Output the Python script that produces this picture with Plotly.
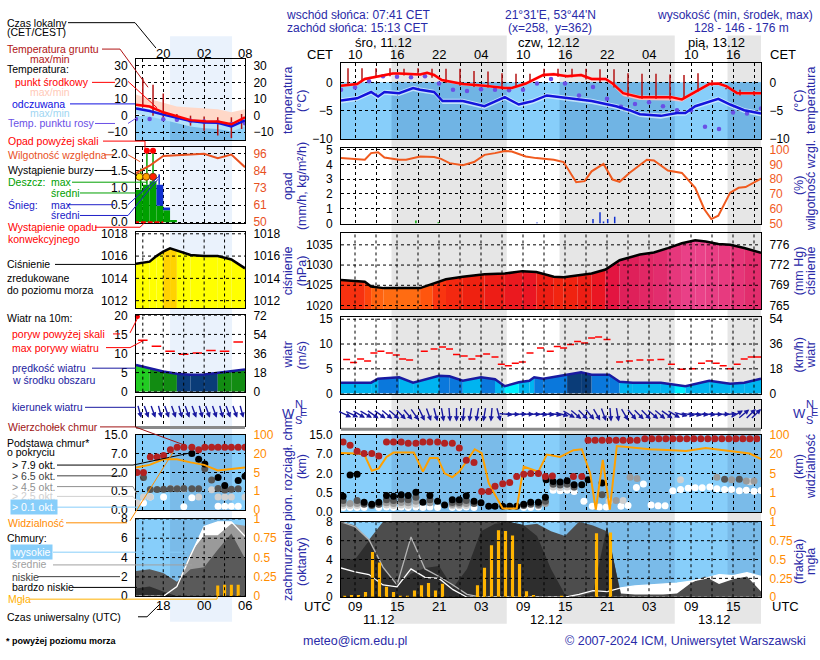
import math
import plotly.graph_objects as go

W, H = 820, 660
FONT = "Liberation Sans, Arial, sans-serif"
TXT_BLUE = "#2a2aa8"

# ======================= DATA =======================
cet_hours = [2, 8, 14, 20, 26, 32, 38, 44, 50, 56]
cet_labels = ["10", "16", "22", "04", "10", "16", "22", "04", "10", "16"]
utc_labels = ["09", "15", "21", "03", "09", "15", "21", "03", "09", "15"]
day_labels = ["śro, 11.12", "czw, 12.12", "pią, 13.12"]
day_label_hours = [6.0, 29.6, 53.7]
date_labels = ["11.12", "12.12", "13.12"]
date_label_hours = [5.4, 29.4, 53.4]
night_start = [7.22, 31.22, 55.22]
night_end = [23.68, 47.68, 60.0]
left_night = [-11.0, -1.9]
left_tick_hours = [-12, -6, 0]
left_cet_labels = ["20", "02", "08"]
left_utc_labels = ["18", "00", "06"]

temp_hours = [0, 2.3, 3.4, 5.3, 7.4, 8.3, 11.3, 12.3, 13.3, 14.4, 17.4, 20.5, 23.4, 24.4, 26.4, 28.9,
              30.4, 32.3, 34.3, 35.8, 37.8, 38.8, 40.3, 42.7, 47.2, 48.7, 50.6, 52.6, 53.9, 55.1, 56.6, 60]
temp_mid = [-0.6, -0.3, 0.6, 1.0, 1.55, 1.55, 1.4, 1.7, 1.3, 0.4, -0.3, -0.6, -1.0, -1.0, -0.2, 1.3,
            1.45, 1.1, 1.3, 0.6, 0.6, -0.2, -1.9, -2.6, -2.6, -3.0, -1.7, -0.3, -0.2, -0.7, -1.9, -1.9]
temp_max = [-0.35, -0.05, 0.85, 1.25, 1.8, 1.8, 1.65, 1.95, 1.55, 0.65, -0.05, -0.35, -0.75, -0.75, 0.05, 1.6,
            1.75, 1.4, 1.6, 0.9, 0.85, 0.1, -1.6, -2.3, -2.3, -2.7, -1.4, 0.0, 0.05, -0.45, -1.65, -1.65]
temp_min = [-0.85, -0.55, 0.35, 0.75, 1.3, 1.3, 1.15, 1.45, 1.05, 0.15, -0.55, -0.85, -1.25, -1.25, -0.45, 1.0,
            1.15, 0.8, 1.0, 0.3, 0.3, -0.6, -2.4, -3.1, -3.2, -3.4, -2.1, -0.6, -0.5, -1.0, -2.2, -2.2]
perc_hours = [0, 2.3, 4.3, 5.3, 6.2, 8.3, 10.3, 11.3, 13.3, 14.5, 17.4, 20.5, 23.4, 25.4, 26.4, 27.4,
              29.4, 32.3, 35.8, 37.8, 39.3, 41.2, 42.7, 45.7, 48.0, 49.2, 50.6, 53.9, 55.6, 57.6, 60]
perc_mid = [-3.2, -2.8, -1.7, -2.5, -1.7, -1.9, -1.0, -1.3, -1.7, -3.3, -3.3, -4.2, -2.6, -3.9, -3.6, -3.3,
            -2.3, -2.7, -3.3, -3.8, -4.2, -4.9, -5.6, -5.9, -5.4, -5.4, -4.2, -2.9, -3.9, -4.9, -5.5]
perc_max = [-2.8, -2.4, -1.3, -2.1, -1.3, -1.5, -0.6, -0.9, -1.3, -2.9, -2.9, -3.8, -2.2, -3.5, -3.2, -2.9,
            -1.9, -2.3, -2.9, -3.4, -3.8, -4.5, -5.2, -5.5, -5.0, -5.0, -3.8, -2.5, -3.5, -4.5, -5.1]
perc_min = [-3.7, -3.3, -2.2, -3.0, -2.2, -2.4, -1.5, -1.8, -2.2, -3.8, -3.8, -4.7, -3.1, -4.4, -4.1, -3.8,
            -2.8, -3.2, -3.8, -4.3, -4.7, -5.4, -6.1, -6.4, -5.9, -5.9, -4.7, -3.4, -4.4, -5.4, -6.0]
ground_hours = [1, 3, 5, 7, 9, 11, 13, 15, 17, 19, 21, 23, 25, 27, 29, 31, 33, 35, 37, 39,
                41, 43, 45, 47, 49, 51, 53, 55, 57, 59]
ground_max = [2.5, 2.5, 2.5, 2.5, 2.4, 2.5, 2.4, 2.4, 2.4, 2.0, 1.9, 1.6, 1.5, 1.5, 2.4, 2.4, 2.4, 2.4, 2.3, 2.3,
              1.6, 1.5, 1.5, 1.4, 1.3, 1.6, 0.4, -1.0, -1.3, -1.5]
ground_min = [-0.4, 0.3, 0.8, 1.1, 1.2, 1.3, 0.8, -0.1, -0.6, -0.8, -0.9, -1.2, -0.8, 0.0, 1.0, 1.0, 0.9, 0.5, 0.0, -0.9,
              -2.5, -2.9, -2.9, -3.0, -2.7, -1.6, -0.6, -1.2, -2.3, -2.3]
dew_hours = [0, 2, 4, 6, 8, 10, 12, 14, 16, 18, 20, 22, 24, 26, 28, 30, 32, 34, 36, 38, 40, 42, 44, 46, 48,
             50, 52, 54, 56, 58, 60]
dew_vals = [-1.3, -0.9, 0.2, 1.1, 1.0, 0.9, 1.1, -0.2, -1.3, -1.5, -1.2, -1.3, -1.4, -1.3, -0.2, 0.6, -0.2, -2.3,
            -0.8, -2.9, -4.3, -3.8, -3.5, -4.2, -4.9, -4.9, -7.8, -8.2, -5.3, -5.5, -4.6]

rh_hours = [0, 3.4, 4.3, 5.3, 6.2, 8.3, 9.3, 11.3, 13.3, 14.3, 15.5, 17.4, 19.0, 20.5, 22.0, 23.4, 24.4, 26.4,
            27.9, 30.4, 31.8, 33.6, 34.8, 35.8, 37.5, 38.8, 39.8, 41.2, 43.7, 44.7, 46.7, 48.7, 50.6, 51.9,
            52.9, 53.9, 55.6, 56.8, 57.8, 60]
rh_vals = [94.4, 93.3, 97.8, 98.4, 94.8, 93.3, 93.3, 95.5, 95.1, 93.9, 91.0, 89.5, 91.7, 96.6, 97.8, 99.3, 98.9,
           95.5, 94.4, 93.3, 91.7, 78.0, 78.7, 85.4, 90.4, 79.8, 78.3, 84.3, 93.3, 92.8, 85.9, 84.3, 74.2, 59.6,
           52.9, 55.2, 70.9, 74.2, 74.7, 80.5]
precip_hours = [10.7, 13.9, 28.0, 36.0, 37.0, 37.5, 38.1, 39.1]
precip_vals = [0.2, 0.08, 0.05, 0.3, 0.75, 0.12, 0.3, 0.45]
precip_kind = ["rain", "rain", "snow", "snow", "snow", "snow", "snow", "snow"]

pres_hours = [0, 3.4, 4.3, 6.1, 11.3, 13.1, 15.0, 17.4, 20.5, 23.4, 25.9, 27.9, 30.4, 31.8, 33.8, 35.8,
              37.8, 39.8, 42.7, 44.7, 46.7, 48.7, 50.6, 52.1, 53.9, 55.6, 57.6, 60]
pres_vals = [1026.3, 1025.9, 1024.7, 1024.3, 1024.3, 1025.3, 1026.5, 1027.1, 1027.7, 1027.9, 1028.5, 1028.3,
             1027.1, 1027.0, 1027.5, 1027.9, 1028.9, 1031.2, 1032.6, 1033.1, 1034.2, 1035.4, 1036.1, 1035.8,
             1035.2, 1035.0, 1034.2, 1033.0]

wind_hours = [0, 4.3, 5.3, 8.3, 10.3, 14.0, 15.5, 17.4, 20.0, 22.0, 23.4, 25.4, 26.9, 27.6, 28.9, 32.3,
              34.3, 35.8, 38.3, 39.8, 41.7, 45.7, 47.7, 49.2, 52.6, 55.6, 57.6, 60]
wind_vals = [2.2, 2.2, 3.0, 3.3, 2.2, 3.6, 3.5, 2.6, 3.3, 2.9, 1.5, 2.3, 2.6, 3.3, 3.0, 3.75, 4.3, 3.8, 3.8,
             2.4, 2.2, 2.2, 1.8, 1.5, 2.6, 2.0, 2.2, 3.0]
gust_hours = [0.8, 1.8, 2.8, 3.8, 4.7, 5.7, 6.9, 7.9, 8.8, 9.8, 11.9, 13.3, 14.5, 15.5, 16.5, 17.6, 18.7, 19.7,
              20.8, 22.0, 22.9, 23.9, 24.9, 25.9, 27.0, 28.5, 29.9, 30.9, 31.8, 32.8, 33.8, 34.8, 35.8, 36.8,
              38.0, 39.8, 41.2, 42.7, 44.2, 45.7, 47.2, 48.7, 50.2, 51.5, 52.6, 53.6, 54.6, 55.6, 56.6, 57.6,
              58.6, 59.5]
gust_vals = [6.9, 6.25, 7.0, 6.6, 8.2, 8.55, 8.2, 7.8, 7.0, 6.8, 8.55, 9.0, 9.4, 9.0, 7.9, 7.6, 7.0, 7.6, 8.0,
             7.4, 5.9, 5.6, 6.1, 6.4, 8.2, 9.2, 8.55, 9.5, 9.2, 9.9, 10.5, 10.2, 11.2, 11.4, 10.9, 6.4, 6.6,
             6.8, 6.8, 6.9, 5.9, 4.9, 5.0, 6.1, 6.6, 6.1, 5.6, 5.0, 5.9, 7.0, 7.4, 7.4]
dir_hours = [0.5, 1.5, 2.5, 3.5, 4.5, 5.5, 6.5, 7.5, 8.5, 9.5, 10.5, 11.5, 12.5, 13.5, 14.5, 15.5, 16.5, 17.5,
             18.5, 19.5, 20.5, 21.5, 22.5, 23.5, 24.5, 25.5, 26.5, 27.5, 28.5, 29.5, 30.5, 31.5, 32.5, 33.5,
             34.5, 35.5, 36.5, 37.5, 38.5, 39.5, 40.5, 41.5, 42.5, 43.5, 44.5, 45.5, 46.5, 47.5, 48.5, 49.5,
             50.5, 51.5, 52.5, 53.5, 54.5, 55.5, 56.5, 57.5, 58.5, 59.5]
dir_deg = [295, 295, 300, 300, 305, 305, 310, 310, 315, 320, 325, 335, 340, 345, 350, 355, 360, 5, 10, 10,
           10, 5, 345, 275, 272, 270, 270, 272, 275, 275, 278, 285, 300, 310, 315, 320, 330, 340, 355, 350,
           330, 320, 315, 315, 310, 310, 305, 300, 285, 280, 278, 275, 275, 272, 270, 265, 240, 230, 225, 225]

top_hours = [0.3, 1.3, 2.3, 3.3, 4.4, 5.4, 6.5, 7.5, 8.6, 9.6, 10.7, 11.7, 12.7, 13.8, 14.8, 15.9, 16.9, 17.9,
             19.0, 20.1, 21.1, 22.0, 23.1, 24.1, 25.1, 26.1, 27.1, 28.2, 29.2, 30.2, 33.2, 34.4, 35.3, 36.3,
             37.3, 38.3, 39.3, 40.3, 41.3, 42.3, 43.4, 44.4, 45.4, 46.4, 47.4, 48.4, 49.4, 50.4, 51.4, 52.4,
             53.4, 54.4, 55.4, 56.4, 57.4, 58.4, 59.4]
top_km = [12.0, 10.6, 8.2, 7.2, 7.2, 6.5, 12.0, 12.0, 12.0, 11.5, 11.5, 12.0, 12.0, 12.0, 11.5, 11.5, 9.5, 5.4,
          4.8, 0.6, 0.6, 1.0, 1.2, 1.3, 1.75, 1.93, 1.99, 1.99, 1.75, 1.8, 1.76, 1.76, 12.7, 12.7, 12.7, 12.7,
          12.7, 12.7, 12.7, 12.7, 13.3, 13.3, 13.3, 13.3, 13.3, 13.3, 13.3, 13.3, 13.3, 13.3, 13.3, 13.3, 13.3,
          13.3, 13.3, 13.3, 13.3]
black_hours = [0.3, 1.3, 2.3, 3.3, 4.4, 5.4, 6.5, 7.5, 8.6, 9.6, 10.7, 11.7, 12.7, 13.8, 14.8, 15.9, 16.9,
               17.9, 19.0, 20.0, 21.1, 22.0, 23.1, 24.1, 25.1, 26.1, 27.1, 28.2, 29.2, 29.3, 30.3, 31.3, 32.3,
               33.3, 34.4, 35.3, 37.3]
black_km = [0.41, 1.87, 1.93, 0.255, 0.2, 0.255, 0.43, 0.41, 0.45, 0.43, 0.53, 0.255, 0.43, 0.28, 0.18, 0.32,
            0.32, 0.42, 0.28, 0.24, 0.15, 0.15, 0.15, 0.15, 0.15, 0.2, 0.255, 0.255, 0.38, 1.5, 1.37, 1.33,
            1.42, 1.12, 1.12, 1.5, 1.25]
dgray_hours = [0.3, 2.3, 3.3, 4.4, 5.4, 6.5, 7.5, 8.6, 9.6, 10.7, 12.7, 15.9, 16.9, 17.9, 19.0, 26.1, 27.1,
               28.2, 29.2, 30.3, 31.3, 32.3, 33.3, 37.3, 54.8, 56.9]
dgray_km = [0.3, 0.3, 0.2, 0.17, 0.2, 0.32, 0.3, 0.33, 0.32, 0.38, 0.32, 0.25, 0.25, 0.3, 0.22, 0.17, 0.2,
            0.2, 0.28, 1.15, 1.1, 1.15, 0.95, 0.45, 1.55, 1.55]
mgray_hours = [0.3, 1.3, 2.3, 5.4, 6.5, 7.5, 8.6, 9.6, 10.7, 12.7, 15.9, 16.9, 17.9, 28.2, 29.2, 39.3, 41.3,
               42.3, 53.7, 55.8, 57.9, 59.0]
mgray_km = [0.22, 0.22, 0.22, 0.2, 0.24, 0.22, 0.25, 0.24, 0.28, 0.24, 0.2, 0.2, 0.22, 0.17, 0.22, 0.3, 1.7,
            1.6, 1.7, 1.5, 1.4, 1.4]
lgray_hours = [0.3, 1.3, 2.3, 6.5, 7.5, 8.6, 9.6, 10.7, 15.9, 16.9, 17.9, 30.3, 31.3, 32.3, 33.3, 38.3, 40.3,
               48.5, 58.4]
lgray_km = [0.17, 0.17, 0.17, 0.18, 0.17, 0.18, 0.17, 0.2, 0.16, 0.16, 0.17, 0.95, 0.9, 0.95, 0.9, 0.28, 0.3,
            1.5, 1.35]
white_hours = [0.3, 1.3, 2.3, 3.3, 5.4, 6.5, 7.5, 8.6, 9.6, 10.7, 11.7, 12.7, 13.8, 15.9, 16.9, 17.9, 19.0,
               26.1, 27.1, 28.2, 30.3, 31.3, 32.3, 33.3, 34.7, 35.9, 36.9, 37.9, 40.0, 41.0, 42.2, 43.2, 44.3,
               45.3, 46.3, 47.4, 48.5, 49.6, 50.6, 51.6, 52.7, 53.7, 54.8, 55.8, 56.9, 57.9, 59.0, 60.0]
white_km = [0.12, 0.12, 0.12, 0.12, 0.12, 0.13, 0.12, 0.13, 0.12, 0.13, 0.12, 0.13, 0.12, 0.12, 0.12, 0.13,
            0.12, 0.12, 0.12, 0.13, 0.7, 0.65, 0.7, 0.6, 0.28, 0.15, 0.13, 0.13, 0.15, 0.17, 0.9, 1.18, 0.18,
            0.16, 0.16, 0.65, 0.75, 0.85, 0.88, 0.88, 0.95, 0.8, 0.75, 0.75, 0.65, 0.7, 0.62, 0.68]
vis_hours = [0, 1.3, 2.3, 3.3, 4.4, 5.4, 6.5, 7.5, 10.4, 11.7, 12.7, 13.8, 14.8, 15.9, 16.9, 17.9, 19.1, 20.1,
             21.1, 22.0, 23.1, 24.1, 25.1, 26.1, 27.1, 28.2, 29.4, 31.3, 33.2, 34.4, 35.6, 36.4, 37.4, 38.4,
             39.4, 44.1, 47.4, 49.3, 52.1, 55.0, 57.0, 58.4, 60]
vis_km = [24, 24, 22, 20, 7.0, 8.9, 17.8, 26, 26, 6.4, 17, 17, 5.0, 4.2, 6.4, 14, 40, 24, 3.0, 0.9, 0.19,
          0.19, 0.19, 10.2, 8.5, 6.4, 19.6, 17.8, 36, 40, 5.0, 0.13, 15.4, 0.13, 53, 40, 36, 33, 45, 33, 25,
          22, 16]

cc_hours = [0, 2, 4, 6, 8, 10, 12, 14, 16, 18, 20, 22, 24, 26, 28, 30, 32, 34, 36, 38, 40, 42, 44, 46, 48,
            50, 52, 54, 56, 58, 60]
cc_high = [3.1, 2.7, 2.4, 1.3, 1.1, 3.0, 2.1, 2.0, 0.8, 0, 0, 0, 0, 0, 0, 0, 0, 0.3, 0.7, 0.6, 1.0, 1.2, 1.3,
           1.4, 1.5, 1.7, 2.0, 2.4, 2.3, 2.6, 2.2]
cc_mid = [8.0, 7.5, 6.1, 3.2, 1.3, 6.4, 3.0, 2.2, 1.3, 0.3, 0, 0, 0, 0, 0, 0, 0, 0, 0, 0, 0, 0, 0, 0, 0, 0,
          0, 0, 0, 0, 0]
cc_low = [8.0, 7.6, 6.1, 8.0, 8.0, 8.0, 8.0, 8.0, 8.0, 8.0, 8.0, 8.0, 8.0, 7.6, 7.8, 7.0, 6.5, 8.0, 7.6, 7.0,
          0.4, 0.3, 0.3, 0.3, 0.4, 1.5, 2.2, 1.4, 1.9, 2.2, 0.6]
cc_vlow = [4.1, 4.0, 6.0, 3.0, 1.3, 2.5, 3.1, 3.3, 1.0, 3.0, 7.0, 7.8, 8.0, 7.7, 6.5, 3.0, 0.3, 0, 0.5, 7.5,
           0, 0, 0, 0, 0, 0, 0, 0, 0, 0, 0]
fog_hours = [0.5, 1.5, 2.5, 3.5, 4.5, 5.5, 6.5, 7.5, 8.5, 9.5, 10.5, 11.5, 12.5, 13.5, 14.5, 19.5, 20.5, 21.5,
             22.5, 23.5, 24.5, 25.5, 26.5, 27.5, 31.5, 36.5, 38.5]
fog_frac = [0.01, 0.03, 0.03, 0.07, 0.6, 0.46, 0.14, 0.07, 0.02, 0.01, 0.09, 0.16, 0.19, 0.09, 0.18, 0.16,
            0.39, 0.69, 0.89, 0.88, 0.82, 0.44, 0.08, 0.03, 0.02, 0.85, 0.86]

lt_hours = [-16, -14, -12, -10, -8, -6, -4, -2, 0]
lt_mid = [6.5, 5.5, 2.0, -0.5, -2.7, -3.4, -3.5, -5.2, -1.0]
lt_max = [12.7, 10.0, 7.8, 5.5, 4.9, 4.2, 3.9, 2.0, 3.9]
lt_min = [5.5, 4.5, 1.0, -1.2, -3.3, -4.0, -4.2, -6.0, -1.8]
lt_perc = [4.3, 2.8, 0.6, -1.2, -3.2, -4.1, -4.3, -6.5, -2.9]
lt_perc_max = [5.5, 4.0, 1.8, 0.0, -2.0, -2.9, -3.1, -5.3, -1.7]
lt_perc_min = [1.0, -0.5, -2.5, -4.5, -6.5, -7.5, -8.0, -9.5, -6.5]
lt_dew = [-2.0, -2.0, -2.2, -2.5, -3.0, -3.5, -4.0, -5.0, -4.5]
lg_hours = [-15, -13.5, -12, -10, -8, -6, -4, -2, -0.5]
lg_max = [22.5, 18.6, 13.3, 1.0, 0.0, -0.5, -1.0, -1.0, 1.0]
lg_min = [5.0, 0.0, -2.0, -3.5, -6.0, -9.0, -12.0, -13.5, -8.0]
lrh = [83, 88, 94.5, 95, 95, 96, 93, 95.5, 87]
lbar_hours = [-15.5, -14.5, -13.5, -12.5, -11.5, -10.5]
lrain = [0.95, 1.1, 1.2, 0.48, 0.35, 0.07]
lsnow = [0, 0, 0, 0.62, 0.08, 0]
lrain_max_hours = [-15.3, -14.4, -13.5]
lrain_max_from = [0.95, 1.1, 1.2]
lrain_max = [1.57, 2.5, 2.4]
lsnow_max_hours = [-12.6]
lsnow_max_from = [1.1]
lsnow_max = [1.4]
storm_hours = [-15.5, -14.5, -13.5]
storm_colors = ["#ffe000", "#ffa000", "#ff2000"]
conv_hours = [-15.5, -14.5, -13.5, -12.5]
lp_hours = [-16, -14, -13, -12, -11, -10, -8, -6, -4, -2, 0]
lp_vals = [1015.3, 1015.5, 1016.0, 1016.4, 1016.7, 1016.5, 1016.1, 1016.0, 1016.0, 1015.7, 1014.9]
lw_vals = [7.0, 6.1, 5.3, 4.7, 4.4, 4.5, 4.9, 5.4, 5.8]
lgust_hours = [-15.8, -15, -13, -11, -9, -7, -5, -3, -1]
lgust_vals = [23, 13.5, 11.9, 10.6, 9.8, 10.1, 10.8, 10.6, 13.0]
ldir_hours = [-15.5, -14.5, -13.5, -12.5, -11.5, -10.5, -9.5, -8.5, -7.5, -6.5, -5.5, -4.5, -3.5, -2.5, -1.5, -0.5]
ldir_deg = [345, 340, 340, 345, 340, 340, 345, 340, 340, 345, 340, 340, 345, 340, 340, 345]
ltop_hours = [-15.85, -14.9, -13.9, -12.9, -11.95, -10.95, -9.96, -8.98, -7.8, -6.8, -5.9, -4.9, -3.95, -2.97, -2.0, -1.0, 0]
ltop_km = [2.0, 2.0, 6.1, 6.1, 6.5, 8.6, 9.7, 9.7, 9.7, 8.6, 9.7, 9.7, 9.7, 9.7, 9.7, 9.7, 9.7]
lvis_km = [8.9, 11, 15.5, 15.5, 13, 11, 6.5, 7.5, 8.9]
lblack_hours = [-7.8, -6.8, -5.9, -3.95, -2.97, -1.0, 0]
lblack_km = [7.0, 5.5, 4.2, 1.6, 0.95, 1.35, 1.7]
ldgray_hours = [-14.9, -13.9, -12.9, -11.95, -10.95, -9.96, -8.98, -7.8, -6.8, -5.9, -4.9, -3.95, -2.97, -2.0, -1.0]
ldgray_km = [1.6, 0.64, 0.64, 0.66, 0.7, 0.7, 0.72, 0.7, 0.7, 3.0, 1.4, 0.72, 0.6, 0.65, 0.7]
llgray_hours = [-15.85, -14.9, -13.9, -10.95, -9.96, -8.98, -6.8, -4.9, -3.95, -2.97, -2.0, 0]
llgray_km = [0.19, 0.35, 0.35, 0.72, 0.7, 0.68, 0.35, 0.62, 0.35, 0.35, 0.35, 0.35]
lwhite_hours = [-14.9, -13.9, -11.95, -8.98, -7.8, -3.95, -2.97, -2.0, -1.0]
lwhite_km = [0.19, 0.35, 0.35, 0.09, 0.33, 0.1, 0.1, 0.1, 0.1]
lcc_high = [0, 0, 0, 1.0, 4.2, 7.2, 7.7, 7.7, 6.2]
lcc_mid = [0, 0, 0, 1.2, 4.5, 6.3, 6.3, 7.5, 7.3]
lcc_low = [2.6, 2.8, 2.4, 1.5, 2.8, 3.0, 4.8, 6.5, 3.9]
lcc_vlow = [0.8, 1.0, 0.5, 0, 0, 0, 0, 0, 0]
lfog_hours = [-4, -3, -2, -1]
lfog_frac = [0.14, 0.15, 0.15, 0.15]

CB_KM = [0, 0.5, 2, 7, 15]
VIS_KM = [0, 1, 5, 20, 100]
SCALE_POS = [0, 1, 2, 3, 4]
cb_ticktext = ["0.0", "0.5", "2.0", "7.0", "15.0"]
vis_ticktext = ["0", "1", "5", "20", "100"]
mmhg_ticks = [1020, 1025, 1030, 1035]
mmhg_text = ["765", "769", "772", "776"]
kmh_text_main = ["0", "18", "36", "54"]
kmh_text_left = ["0", "18", "36", "54", "72"]
lrh_ticks = [50, 61.5, 73, 84.5, 96]
lrh_text = ["50", "61", "73", "84", "96"]

# ======================= STYLE / LAYOUT =======================
layout = dict(width=W, height=H, margin=dict(l=0, r=0, t=0, b=0), paper_bgcolor="white",
              plot_bgcolor="rgba(0,0,0,0)", showlegend=False, barmode="overlay",
              font=dict(family=FONT, size=12, color="black"))
traces, shapes, annotations = [], [], []
DASH = "3px,3px"
SKY_DAY, SKY_NIGHT = "#87cefa", "#7abbe9"


def xn(k): return "x" if k == 1 else f"x{k}"
def yn(k): return "y" if k == 1 else f"y{k}"
def xa(k): return "xaxis" if k == 1 else f"xaxis{k}"
def ya(k): return "yaxis" if k == 1 else f"yaxis{k}"


def add(k, yk=None, **kw):
    kw.setdefault("hoverinfo", "skip")
    traces.append(go.Scatter(xaxis=xn(k), yaxis=yn(yk if yk else k), **kw))


def make_panel(k, xbox, ybox, xr, yr, xgrid, ytv=None, ytt=None, rk=None, rtv=None, rtt=None,
               rcolor="black", rrange=None, axis_grid=True):
    x0, x1 = xbox
    y0, y1 = ybox
    layout[xa(k)] = dict(domain=[x0 / W, x1 / W], range=xr, anchor=yn(k), tickvals=xgrid, showticklabels=False,
                         ticks="", showgrid=axis_grid, gridcolor="black", gridwidth=1, griddash=DASH,
                         zeroline=False, showline=True, linecolor="black", linewidth=1, mirror=True)
    layout[ya(k)] = dict(domain=[1 - y1 / H, 1 - y0 / H], range=yr, anchor=xn(k),
                         tickvals=ytv if ytv is not None else [], ticktext=ytt,
                         showticklabels=ytv is not None, showgrid=axis_grid and ytv is not None,
                         gridcolor="black", gridwidth=1, griddash=DASH, zeroline=False, showline=True,
                         linecolor="black", linewidth=1, mirror=True, ticks="outside", ticklen=5,
                         tickcolor="rgba(0,0,0,0)", tickfont=dict(size=12, color="black"))
    if not axis_grid:
        for gx in xgrid:
            shapes.append(dict(type="line", xref=xn(k), yref=yn(k) + " domain", x0=gx, x1=gx, y0=0, y1=1,
                               line=dict(color="black", width=1, dash=DASH), layer="above"))
        for gy in (ytv or []):
            shapes.append(dict(type="line", xref=xn(k) + " domain", yref=yn(k), x0=0, x1=1, y0=gy, y1=gy,
                               line=dict(color="black", width=1, dash=DASH), layer="above"))
    if rk is not None:
        layout[ya(rk)] = dict(overlaying=yn(k), side="right", anchor=xn(k), range=rrange if rrange else yr,
                              tickvals=rtv, ticktext=rtt, showgrid=False, zeroline=False, showline=False,
                              ticks="outside", ticklen=5, tickcolor="rgba(0,0,0,0)",
                              tickfont=dict(size=12, color=rcolor))
        add(k, rk, x=[None], y=[None], mode="lines")


def bg(k, x0, x1, y0, y1, color, domain=False):
    shapes.append(dict(type="rect", xref=xn(k), yref=yn(k) + (" domain" if domain else ""), x0=x0, x1=x1,
                       y0=y0, y1=y1, fillcolor=color, line=dict(width=0), layer="below"))


def piecewise(v, xs, ys):
    for i in range(len(xs) - 1):
        if v <= xs[i + 1]:
            return ys[i] + (v - xs[i]) / (xs[i + 1] - xs[i]) * (ys[i + 1] - ys[i])
    return ys[-1] + (v - xs[-1]) / (xs[-1] - xs[-2]) * (ys[-1] - ys[-2])


def cbpos(vals): return [piecewise(v, CB_KM, SCALE_POS) for v in vals]
def vispos(vals): return [piecewise(v, VIS_KM, SCALE_POS) for v in vals]


PRES_STOPS = [(1024.0, (255, 122, 20)), (1025.0, (255, 76, 12)), (1026.0, (248, 50, 16)),
              (1027.5, (238, 32, 16)), (1029.0, (232, 16, 48)), (1031.0, (222, 26, 80)),
              (1033.5, (226, 44, 108)), (1036.0, (234, 66, 138))]


def pres_color(v):
    st = PRES_STOPS
    if v <= st[0][0]:
        c = st[0][1]
    elif v >= st[-1][0]:
        c = st[-1][1]
    else:
        for (a, ca), (b, cb_) in zip(st[:-1], st[1:]):
            if a <= v <= b:
                t = (v - a) / (b - a)
                c = tuple(round(ca[i] + t * (cb_[i] - ca[i])) for i in range(3))
                break
    return "rgb(%d,%d,%d)" % c


def wind_color(v):
    if v < 2:
        return "#00f0ff"
    if v < 3:
        return "#00b4f0"
    if v < 4:
        return "#0a78dc"
    if v < 5:
        return "#0a3c78"
    if v < 6:
        return "#128c12"
    return "#22cc22"


def arrows(k, hours, dirs, pxh, panel_px, xr, L=15, color="#1a1aa0"):
    for h, d in zip(hours, dirs):
        r = math.radians(d)
        fx, fy = -math.sin(r), -math.cos(r)
        hx = min(max(h + (L / 2) * fx / pxh, xr[0]), xr[1])
        hy = 0.5 + (L / 2) * fy / panel_px
        annotations.append(dict(x=hx, y=hy, xref=xn(k), yref=yn(k), ax=-L * fx, ay=L * fy, text="",
                                showarrow=True, arrowhead=2, arrowsize=0.75, arrowwidth=1.4, arrowcolor=color))


def txt(x, y, s, color="black", size=12, xanchor="left", **kw):
    annotations.append(dict(x=x / W, y=1 - y / H, xref="paper", yref="paper", text=s, showarrow=False,
                            xanchor=xanchor, yanchor="middle", font=dict(color=color, size=size, family=FONT), **kw))


def vtxt(x, y, s, color=TXT_BLUE, size=13):
    annotations.append(dict(x=x / W, y=1 - y / H, xref="paper", yref="paper", text=s, showarrow=False,
                            textangle=-90, xanchor="center", yanchor="middle",
                            font=dict(color=color, size=size, family=FONT)))


def leader(pts, color, width=1):
    for (ax_, ay_), (bx, by) in zip(pts[:-1], pts[1:]):
        shapes.append(dict(type="line", xref="paper", yref="paper", x0=ax_ / W, y0=1 - ay_ / H, x1=bx / W,
                           y1=1 - by / H, line=dict(color=color, width=width), layer="above"))


for s, e in zip(night_start, night_end):
    shapes.append(dict(type="rect", xref="x", yref="paper", x0=s, x1=e, y0=1 - 630 / H, y1=1 - 29 / H,
                       fillcolor="#e6e6e6", line=dict(width=0), layer="below"))
shapes.append(dict(type="rect", xref="x8", yref="paper", x0=left_night[0], x1=left_night[1], y0=1 - 628 / H,
                   y1=1 - 30 / H, fillcolor="#eaf2fc", line=dict(width=0), layer="below"))

MX, LX = (341, 761), (136, 245)
MR, LR = [0, 60], [-16, 0]
main_grid = list(range(2, 60, 3))
left_grid = [-15, -12, -9, -6, -3]

make_panel(1, MX, (57, 135), MR, [-10, 3.45], main_grid, [-10, -5, 0], rk=21, rtv=[-10, -5, 0])
make_panel(2, MX, (144, 222), MR, [-0.067, 5.133], main_grid, [0, 1, 2, 3, 4, 5], rk=22,
           rtv=[50, 60, 70, 80, 90, 100], rcolor="#f05a1e", rrange=[49.33, 101.33])
make_panel(3, MX, (231, 309), MR, [1019.03, 1037.9], main_grid, [1020, 1025, 1030, 1035], rk=23,
           rtv=mmhg_ticks, rtt=mmhg_text, axis_grid=False)
make_panel(4, MX, (317, 395), MR, [0, 15.39], main_grid, [0, 5, 10, 15], rk=24, rtv=[0, 5, 10, 15],
           rtt=kmh_text_main, axis_grid=False)
make_panel(5, MX, (402, 430), MR, [0, 1], main_grid)
make_panel(6, MX, (437, 516), MR, [0, 4], main_grid, SCALE_POS, cb_ticktext, rk=26, rtv=SCALE_POS,
           rtt=vis_ticktext, rcolor="#ff8c00")
make_panel(7, MX, (526, 603), MR, [0, 8], main_grid, [0, 2, 4, 6, 8], rk=27, rtv=[0, 0.25, 0.5, 0.75, 1],
           rtt=["0", "0.25", "0.5", "0.75", "1"], rcolor="#ff8c00", rrange=[0, 1], axis_grid=False)

make_panel(8, LX, (53, 136), LR, [-14.7, 34.1], left_grid, [-10, 0, 10, 20, 30], rk=28,
           rtv=[-10, 0, 10, 20, 30])
make_panel(9, LX, (143, 221), LR, [-0.03, 2.2], left_grid, [0, 0.5, 1, 1.5, 2],
           ["0.0", "0.5", "1.0", "1.5", "2.0"], rk=29, rtv=lrh_ticks, rtt=lrh_text, rcolor="#e8501e",
           rrange=[49.31, 100.6])
make_panel(10, LX, (230, 308), LR, [1011.3, 1018.15], left_grid, [1012, 1014, 1016, 1018], rk=30,
           rtv=[1012, 1014, 1016, 1018], axis_grid=False)
make_panel(11, LX, (315, 393), LR, [0, 20], left_grid, [0, 5, 10, 15, 20], rk=31, rtv=[0, 5, 10, 15, 20],
           rtt=kmh_text_left, axis_grid=False)
make_panel(12, LX, (398, 428), LR, [0, 1], left_grid)
make_panel(13, LX, (437, 514), LR, [0, 4], left_grid, SCALE_POS, cb_ticktext, rk=33, rtv=SCALE_POS,
           rtt=vis_ticktext, rcolor="#ff8c00")
make_panel(14, LX, (523, 602), LR, [0, 8], left_grid, [0, 2, 4, 6, 8], rk=34, rtv=[0, 0.25, 0.5, 0.75, 1],
           rtt=["0", "0.25", "0.5", "0.75", "1"], rcolor="#ff8c00", rrange=[0, 1], axis_grid=False)

bg(1, 0, 60, -10, 0, "#87cefa")
for s, e in zip(night_start, night_end):
    bg(1, s, e, -10, 0, "#70b4e4")
for k in (6, 7):
    bg(k, 0, 60, 0, 1, SKY_DAY, True)
    for s, e in zip(night_start, night_end):
        bg(k, s, e, 0, 1, SKY_NIGHT, True)
bg(8, -16, 0, -14.7, 0, "#8fd0f8")
bg(8, left_night[0], left_night[1], -14.7, 0, "#76b9e8")
for k in (13, 14):
    bg(k, -16, 0, 0, 1, SKY_DAY, True)
    bg(k, left_night[0], left_night[1], 0, 1, SKY_NIGHT, True)
shapes.append(dict(type="line", xref="paper", yref="paper", x0=MX[0] / W, x1=MX[1] / W, y0=1 - 431.5 / H,
                   y1=1 - 431.5 / H, line=dict(color="#8a8a8a", width=3), layer="above"))
shapes.append(dict(type="line", xref="paper", yref="paper", x0=LX[0] / W, x1=LX[1] / W, y0=1 - 429.5 / H,
                   y1=1 - 429.5 / H, line=dict(color="#8a8a8a", width=3), layer="above"))


def vbars(h, lo, hi):
    xs, ys = [], []
    for a, b, c in zip(h, lo, hi):
        xs += [a, a, None]
        ys += [b, c, None]
    return xs, ys


def dashes(h, v, half=0.5):
    xs, ys = [], []
    for a, b in zip(h, v):
        xs += [a - half, a + half, None]
        ys += [b, b, None]
    return xs, ys


add(1, x=perc_hours, y=perc_max, mode="lines", line=dict(width=0))
add(1, x=perc_hours, y=perc_min, mode="lines", line=dict(width=0), fill="tonexty", fillcolor="rgba(214,238,255,0.8)")
add(1, x=temp_hours, y=temp_max, mode="lines", line=dict(width=0))
add(1, x=temp_hours, y=temp_min, mode="lines", line=dict(width=0), fill="tonexty", fillcolor="#ffbcbc")
gx, gy = vbars(ground_hours, ground_min, ground_max)
add(1, x=gx, y=gy, mode="lines", line=dict(color="#b41414", width=1.5))
add(1, x=dew_hours, y=dew_vals, mode="markers", marker=dict(color="#6a50e6", size=4.5))
add(1, x=perc_hours, y=perc_mid, mode="lines", line=dict(color="#1414dc", width=2.5))
add(1, x=temp_hours, y=temp_mid, mode="lines", line=dict(color="#ff0000", width=2.5))

for hh, vv, kk in zip(precip_hours, precip_vals, precip_kind):
    add(2, x=[hh, hh], y=[0, vv], mode="lines", line=dict(color="#00a000" if kk == "rain" else "#1030d0", width=1.5))
add(2, 22, x=rh_hours, y=rh_vals, mode="lines", line=dict(color="#f05a1e", width=2))

for i in range(len(pres_hours) - 1):
    c = pres_color((pres_vals[i] + pres_vals[i + 1]) / 2)
    add(3, x=[pres_hours[i], pres_hours[i + 1]], y=[pres_vals[i], pres_vals[i + 1]], mode="lines",
        line=dict(width=0.5, color=c), fill="tozeroy", fillcolor=c)
add(3, x=pres_hours, y=pres_vals, mode="lines", line=dict(color="black", width=2.5))

for i in range(len(wind_hours) - 1):
    c = wind_color((wind_vals[i] + wind_vals[i + 1]) / 2)
    add(4, x=[wind_hours[i], wind_hours[i + 1]], y=[wind_vals[i], wind_vals[i + 1]], mode="lines",
        line=dict(width=0.5, color=c), fill="tozeroy", fillcolor=c)
add(4, x=wind_hours, y=wind_vals, mode="lines", line=dict(color="#1a1aa0", width=2.5))
dx, dy = dashes(gust_hours, gust_vals)
add(4, x=dx, y=dy, mode="lines", line=dict(color="#ff0000", width=1.5))

arrows(5, dir_hours, dir_deg, 7.0, 28, MR)

for hh, kk, col in ((white_hours, white_km, "#ffffff"), (lgray_hours, lgray_km, "#d0d0d0"),
                    (mgray_hours, mgray_km, "#9a9a9a"), (dgray_hours, dgray_km, "#555555"),
                    (black_hours, black_km, "#000000")):
    add(6, x=hh, y=cbpos(kk), mode="markers", marker=dict(color=col, size=7))
add(6, x=vis_hours, y=vispos(vis_km), mode="lines", line=dict(color="#ffa000", width=2))
add(6, x=top_hours, y=cbpos(top_km), mode="markers", marker=dict(color="#b22222", size=7))

for vals, col in ((cc_high, "#ffffff"), (cc_mid, "#a0a0a0"), (cc_low, "#4d4d4d"), (cc_vlow, "#2e2e2e")):
    add(7, x=cc_hours, y=vals, mode="lines", line=dict(width=0, color=col), fill="tozeroy", fillcolor=col)
add(7, x=cc_hours, y=cc_mid, mode="lines", line=dict(color="#b4b4b4", width=1.3))
add(7, x=cc_hours, y=cc_high, mode="lines", line=dict(color="#ffffff", width=1.3))
traces.append(go.Bar(x=fog_hours, y=fog_frac, width=0.45, marker=dict(color="#ffb400", line=dict(width=0)),
                     xaxis="x7", yaxis="y27", hoverinfo="skip"))

add(8, x=lt_hours, y=lt_max, mode="lines", line=dict(width=0))
add(8, x=lt_hours, y=lt_min, mode="lines", line=dict(width=0), fill="tonexty", fillcolor="#ffd8c8")
add(8, x=lt_hours, y=lt_perc_max, mode="lines", line=dict(width=0))
add(8, x=lt_hours, y=lt_perc_min, mode="lines", line=dict(width=0), fill="tonexty", fillcolor="#b4e2fa")
gx, gy = vbars(lg_hours, lg_min, lg_max)
add(8, x=gx, y=gy, mode="lines", line=dict(color="#b41414", width=1.5))
add(8, x=lt_hours, y=lt_dew, mode="markers", marker=dict(color="#6a50e6", size=4.5))
add(8, x=lt_hours, y=lt_perc, mode="lines", line=dict(color="#1414dc", width=2.5))
add(8, x=lt_hours, y=lt_mid, mode="lines", line=dict(color="#ff0000", width=2.5))

traces.append(go.Bar(x=lbar_hours, y=lrain, width=1.0, marker=dict(color="#00a000", line=dict(width=0)),
                     xaxis="x9", yaxis="y9", hoverinfo="skip"))
traces.append(go.Bar(x=lbar_hours, y=lsnow, base=lrain, width=1.0, marker=dict(color="#1030d0", line=dict(width=0)),
                     xaxis="x9", yaxis="y9", hoverinfo="skip"))
TOPCAP = 2.09
for hh, lo, hi in zip(lrain_max_hours, lrain_max_from, lrain_max):
    add(9, x=[hh, hh], y=[lo, min(hi, TOPCAP)], mode="lines", line=dict(color="#00a000", width=1.5))
    if hi > TOPCAP:
        add(9, x=[hh], y=[TOPCAP], mode="markers", marker=dict(color="#ff0000", size=6), cliponaxis=False)
for hh, lo, hi in zip(lsnow_max_hours, lsnow_max_from, lsnow_max):
    add(9, x=[hh, hh], y=[lo, hi], mode="lines", line=dict(color="#1030d0", width=1.5))
add(9, x=storm_hours, y=[1.33] * len(storm_hours), mode="markers",
    marker=dict(color=storm_colors, size=7, line=dict(color="#804000", width=1)))
cx, cy = dashes(conv_hours, [0] * len(conv_hours))
add(9, x=cx, y=cy, mode="lines", line=dict(color="#ff0000", width=2, dash="3px,2px"), cliponaxis=False)
add(9, 29, x=lt_hours, y=lrh, mode="lines", line=dict(color="#e8501e", width=2))

for i in range(len(lp_hours) - 1):
    c = "#ffd200" if max(lp_vals[i], lp_vals[i + 1]) >= 1016.65 else "#ffff00"
    add(10, x=[lp_hours[i], lp_hours[i + 1]], y=[lp_vals[i], lp_vals[i + 1]], mode="lines",
        line=dict(width=0.5, color=c), fill="tozeroy", fillcolor=c)
add(10, x=lp_hours, y=lp_vals, mode="lines", line=dict(color="black", width=2.5))

for i in range(len(lt_hours) - 1):
    c = wind_color((lw_vals[i] + lw_vals[i + 1]) / 2)
    add(11, x=[lt_hours[i], lt_hours[i + 1]], y=[lw_vals[i], lw_vals[i + 1]], mode="lines",
        line=dict(width=0.5, color=c), fill="tozeroy", fillcolor=c)
add(11, x=lt_hours, y=lw_vals, mode="lines", line=dict(color="#1a1aa0", width=2.5))
in_h = [h for h, v in zip(lgust_hours, lgust_vals) if v <= 20]
in_v = [v for v in lgust_vals if v <= 20]
dx, dy = dashes(in_h, in_v, 0.7)
add(11, x=dx, y=dy, mode="lines", line=dict(color="#ff0000", width=1.5))
add(11, x=[h for h, v in zip(lgust_hours, lgust_vals) if v > 20], y=[19.7 for v in lgust_vals if v > 20],
    mode="markers", marker=dict(color="#ff0000", size=5), cliponaxis=False)

arrows(12, ldir_hours, ldir_deg, 6.81, 30, LR, L=14)

for hh, kk, col in ((lwhite_hours, lwhite_km, "#ffffff"), (llgray_hours, llgray_km, "#d0d0d0"),
                    (ldgray_hours, ldgray_km, "#555555"), (lblack_hours, lblack_km, "#000000")):
    add(13, x=hh, y=cbpos(kk), mode="markers", marker=dict(color=col, size=7))
add(13, x=lt_hours, y=vispos(lvis_km), mode="lines", line=dict(color="#ffa000", width=2))
add(13, x=ltop_hours, y=cbpos(ltop_km), mode="markers", marker=dict(color="#b22222", size=7))

for vals, col in ((lcc_high, "#ffffff"), (lcc_mid, "#9a9a9a"), (lcc_low, "#5a5a5a"), (lcc_vlow, "#2e2e2e")):
    add(14, x=lt_hours, y=vals, mode="lines", line=dict(width=0, color=col), fill="tozeroy", fillcolor=col)
add(14, x=lt_hours, y=lcc_high, mode="lines", line=dict(color="#ffffff", width=1.3))
traces.append(go.Bar(x=lfog_hours, y=lfog_frac, width=0.45, marker=dict(color="#ffb400", line=dict(width=0)),
                     xaxis="x14", yaxis="y34", hoverinfo="skip"))

for hh, lab in zip(cet_hours, cet_labels):
    annotations.append(dict(x=hh, y=1 - 49 / H, xref="x", yref="paper", text=lab, showarrow=False,
                            font=dict(size=13, family=FONT), xanchor="center", yanchor="middle"))
for hh, lab in zip(cet_hours, utc_labels):
    annotations.append(dict(x=hh, y=1 - 612 / H, xref="x", yref="paper", text=lab, showarrow=False,
                            font=dict(size=13, family=FONT), xanchor="center", yanchor="middle"))
for hh, lab in zip(day_label_hours, day_labels):
    annotations.append(dict(x=hh, y=1 - 36 / H, xref="x", yref="paper", text=lab, showarrow=False,
                            font=dict(size=13, family=FONT), xanchor="center", yanchor="middle"))
for hh, lab in zip(date_label_hours, date_labels):
    annotations.append(dict(x=hh, y=1 - 626 / H, xref="x", yref="paper", text=lab, showarrow=False,
                            font=dict(size=13, family=FONT), xanchor="center", yanchor="middle"))
for hh, a, b in zip(left_tick_hours, left_cet_labels, left_utc_labels):
    annotations.append(dict(x=hh, y=1 - 47 / H, xref="x8", yref="paper", text=a, showarrow=False,
                            font=dict(size=13, family=FONT), xanchor="center", yanchor="middle"))
    annotations.append(dict(x=hh, y=1 - 611 / H, xref="x8", yref="paper", text=b, showarrow=False,
                            font=dict(size=13, family=FONT), xanchor="center", yanchor="middle"))
txt(320, 49, "CET", size=13, xanchor="center")
txt(783, 49, "CET", size=13, xanchor="center")
txt(317, 612, "UTC", size=13, xanchor="center")
txt(785, 612, "UTC", size=13, xanchor="center")

txt(284, 8, "wschód słońca: 07:41 CET", TXT_BLUE)
txt(285, 21, "zachód słońca: 15:13 CET", TXT_BLUE)
txt(550, 8, "21°31'E, 53°44'N", TXT_BLUE, xanchor="center")
txt(550, 21, "(x=258,  y=362)", TXT_BLUE, xanchor="center")
txt(815, 8, "wysokość (min, środek, max)", TXT_BLUE, xanchor="right")
txt(741, 21, "128 - 146 - 176 m", TXT_BLUE, xanchor="center")
txt(355, 648, "meteo@icm.edu.pl", TXT_BLUE, size=12.5, xanchor="center")
txt(808, 648, "© 2007-2024 ICM, Uniwersytet Warszawski", TXT_BLUE, size=12.5, xanchor="right")
txt(4, 648, "<b>* powyżej poziomu morza</b>", "black", size=9)

for yc, l1, l2, r1, r2 in ((96, "temperatura", "(°C)", "(°C)", "temperatura"),
                           (183, "opad", "(mm/h, kg/m²/h)", "(%)", "wilgotność wzgl."),
                           (270, "ciśnienie", "(hPa)", "(mm Hg)", "ciśnienie"),
                           (356, "wiatr", "(m/s)", "(km/h)", "wiatr"),
                           (470, "pion. rozciągł. chm.", "(km)", "(km)", "widzialność"),
                           (567, "zachmurzenie", "(oktanty)", "(frakcja)", "mgła")):
    vtxt(288, yc, l1, size=12.5)
    vtxt(302, yc, l2, size=12.5)
    vtxt(799, yc, r1, size=12.5)
    vtxt(811, yc, r2, size=12.5)
for x0c in (290, 801):
    txt(x0c - 2, 415, "W", TXT_BLUE, size=13, xanchor="center")
    txt(x0c + 9, 406, "N", TXT_BLUE, size=11, xanchor="center")
    txt(x0c + 8, 422, "S", TXT_BLUE, size=11, xanchor="center")
    txt(x0c + 13, 414, "E", TXT_BLUE, size=11, xanchor="center")

LS = 10.5
left_labels = [
    (5, 16, "Czas lokalny", "black"), (5, 26, "(CET/CEST)", "black"),
    (5, 43, "Temperatura gruntu", "#b01414"), (28, 53, "max/min", "#b01414"),
    (5, 63, "Temperatura:", "black"), (13, 77, "punkt środkowy", "#ff0000"),
    (28, 87, "max/min", "#ffcab8"), (10, 99, "odczuwana", "#1010e0"),
    (28, 108, "max/min", "#a0d6f2"), (6, 119, "Temp. punktu rosy", "#6a50e6"),
    (6, 137, "Opad powyżej skali", "#ff0000"), (6, 151, "Wilgotność względna", "#e8501e"),
    (6, 167, "Wystąpienie burzy", "black"), (6, 179, "Deszcz:", "#00a000"), (49, 179, "max", "#00a000"),
    (49, 190, "średni", "#00a000"), (6, 202, "Śnieg:", "#2020c8"), (49, 202, "max", "#2020c8"),
    (49, 213, "średni", "#2020c8"), (6, 225, "Wystąpienie opadu", "#ff0000"),
    (6, 237, "konwekcyjnego", "#ff0000"), (5, 263, "Ciśnienie", "black"),
    (5, 277, "zredukowane", "black"), (5, 289, "do poziomu morza", "black"),
    (5, 318, "Wiatr na 10m:", "black"), (10, 334, "poryw powyżej skali", "#ff0000"),
    (10, 348, "max porywy wiatru", "#ff0000"), (10, 369, "prędkość wiatru", "#1a1aa0"),
    (10, 381, "w środku obszaru", "#1a1aa0"), (10, 409, "kierunek wiatru", "#1a1aa0"),
    (6, 429, "Wierzchołek chmur", "#a01414"), (5, 445, "Podstawa chmur*", "black"),
    (5, 455, "o pokryciu", "black"), (10, 468, "> 7.9 okt.", "black"), (10, 479, "> 6.5 okt.", "#404040"),
    (10, 490, "> 4.5 okt.", "#909090"), (10, 500, "> 2.5 okt.", "#d0d0d0"),
    (6, 527, "Widzialność", "#ff8c00"), (5, 543, "Chmury:", "black"),
    (10, 569, "średnie", "#a0a0a0"), (10, 582, "niskie", "#404040"), (10, 593, "bardzo niskie", "black"),
    (6, 605, "Mgła", "#ffb000"), (5, 623, "Czas uniwersalny (UTC)", "black"),
]
for x, y, s, c in left_labels:
    txt(x, y, s, c, size=LS)
txt(10, 511, "> 0.1 okt.", "white", size=LS, bgcolor="#87cefa")
txt(10, 557, "wysokie", "white", size=LS, bgcolor="#87cefa")

leaders = [
    ([(68, 16), (135, 16), (156, 42)], "black"),
    ([(102, 43), (120, 43), (148, 82)], "#b01414"),
    ([(92, 77), (115, 77)], "#ff0000"), ([(128, 76), (157, 103)], "#ff0000"),
    ([(70, 99), (135, 99)], "#1010e0"),
    ([(95, 119), (115, 119)], "#6a50e6"), ([(128, 119), (137, 113)], "#6a50e6"),
    ([(103, 137), (145, 137), (145, 146)], "#ff0000"),
    ([(104, 151), (115, 151)], "#e8501e"), ([(128, 151), (140, 158)], "#e8501e"),
    ([(95, 167), (115, 167)], "black"), ([(128, 167), (137, 172)], "black"),
    ([(72, 179), (147, 179)], "#00a000"), ([(80, 190), (140, 190)], "#00a000"),
    ([(68, 202), (115, 202)], "#2020c8"), ([(128, 202), (160, 172)], "#2020c8"),
    ([(80, 213), (128, 213), (158, 176)], "#2020c8"),
    ([(95, 225), (140, 225), (145, 220)], "#ff0000"),
    ([(55, 263), (136, 263)], "black"),
    ([(113, 334), (120, 334)], "#ff0000"), ([(130, 333), (138, 317)], "#ff0000"),
    ([(106, 348), (130, 348), (143, 341)], "#ff0000"),
    ([(92, 369), (136, 369)], "#1a1aa0"), ([(85, 409), (136, 409)], "#1a1aa0"),
    ([(100, 429), (135, 429), (183, 447)], "#a01414"),
    ([(57, 468), (133, 468), (193, 455)], "black"),
    ([(57, 479), (122, 479)], "#404040"), ([(140, 480), (143, 484)], "#404040"),
    ([(57, 490), (133, 490), (137, 498)], "#909090"),
    ([(57, 500), (133, 500), (137, 505)], "#d0d0d0"),
    ([(57, 511), (136, 511)], "#87cefa"),
    ([(66, 527), (127, 527)], "#ff8c00"), ([(130, 525), (173, 455)], "#ff8c00"),
    ([(53, 557), (187, 557)], "#87cefa"), ([(53, 570), (192, 570)], "#a0a0a0"),
    ([(38, 582), (120, 582)], "#404040"), ([(73, 593), (137, 593)], "black"),
    ([(30, 605), (217, 605), (218, 595)], "#ffb000"),
    ([(138, 623), (147, 623), (160, 610)], "black"),
]
for pts, c in leaders:
    leader(pts, c)

layout["shapes"] = shapes
layout["annotations"] = annotations
fig = go.Figure(data=traces, layout=layout)
fig.write_html("out.html", config={"displayModeBar": False},
               post_script="document.body.style.margin='0px';document.body.style.overflow='hidden';")
